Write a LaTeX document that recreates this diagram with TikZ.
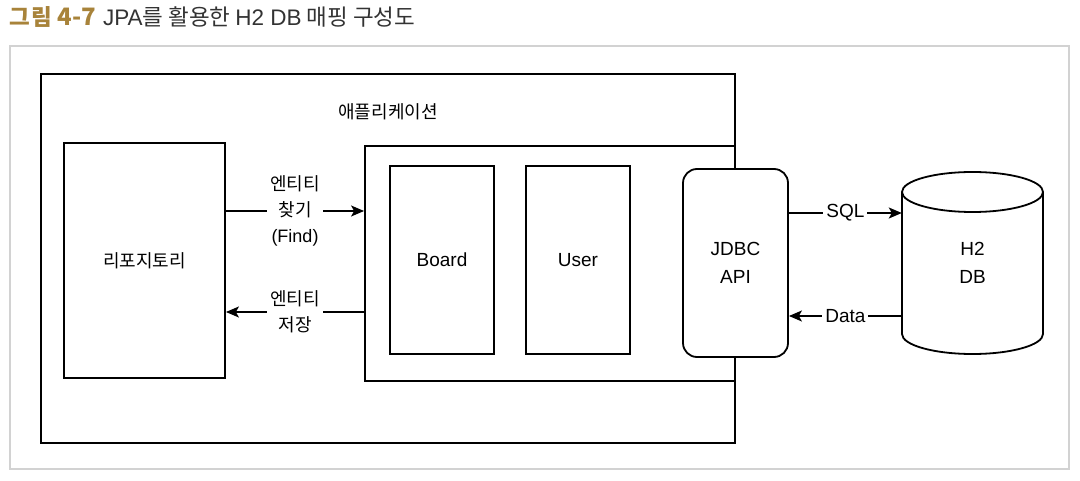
\documentclass[tikz,border=0pt]{standalone}
\usepackage{fontspec}
\setmainfont{Noto Sans CJK KR}
\newfontfamily\lat{Liberation Sans}
\newfontfamily\goldfont[LetterSpace=8]{Noto Sans CJK KR}
\usetikzlibrary{arrows.meta}
\definecolor{gold}{HTML}{A8833A}
\definecolor{titlegray}{HTML}{333333}
\definecolor{framegray}{HTML}{D2D2D2}
\begin{document}
\begin{tikzpicture}[x=1pt,y=1pt,
  box/.style={draw=black,line width=1.8pt},
  arr/.style={line width=1.6pt,-{Stealth[length=13pt,width=11pt,inset=3pt]}},
  lbl/.style={font=\fontsize{18}{26}\selectfont,align=center,fill=white,inner sep=3pt},
  latlbl/.style={lbl,font=\fontsize{19}{26}\selectfont\lat},
  txt/.style={font=\fontsize{18}{27}\selectfont,align=center,inner sep=0pt},
  lattxt/.style={txt,font=\fontsize{19}{28}\selectfont\lat}]
\useasboundingbox (0,0) rectangle (1080,480);
% title
\node[anchor=west,inner sep=0pt,text=titlegray,font=\fontsize{22.5}{26}\selectfont] (title) at (9,463)
  {\textcolor{gold}{\bfseries{\goldfont\bfseries 그림} \fontsize{24}{26}\selectfont 4-7}\hspace{2pt} {\lat JPA}를 활용한 {\lat H2 DB} 매핑 구성도};
% gray frame
\draw[framegray,line width=1.5pt] (10,11) rectangle (1069,434);
% application box
\draw[box] (41,37) rectangle (735,406);
\node[txt] (applbl) at (388,368) {애플리케이션};
% repository
\node[box,minimum width=161pt,minimum height=235pt,inner sep=0pt,txt] (repo) at (144.5,219.5) {리포지토리};
% inner box
\node[box,minimum width=370pt,minimum height=235pt,inner sep=0pt] (inner) at (550,216.5) {};
\node[box,minimum width=104pt,minimum height=188pt,inner sep=0pt,lattxt] (board) at (442,220) {Board};
\node[box,minimum width=104pt,minimum height=188pt,inner sep=0pt,lattxt] (user) at (578,220) {User};
% JDBC
\node[box,fill=white,rounded corners=14pt,minimum width=105pt,minimum height=188pt,inner sep=0pt,lattxt] (jdbc) at (735.5,217) {JDBC\\API};
% DB cylinder
\node[minimum width=141pt,minimum height=182pt,inner sep=0pt,lattxt] (db) at (972.5,217) {H2\\DB};
\draw[line width=1.8pt] (902,288) -- (902,146) arc (180:360:70.5 and 20) -- (1043,288);
\draw[line width=1.8pt] (972.5,288) ellipse (70.5 and 20);
% coordinates for arrow heights
\coordinate (yfind) at (0,269);
\coordinate (ysave) at (0,168);
\coordinate (ysql) at (0,267);
\coordinate (ydata) at (0,164);
% arrows
\draw[arr] (repo.east |- yfind) -- node[lbl,pos=0.5] {엔티티\\찾기\\{\lat (Find)}} (inner.west |- yfind);
\draw[arr] (inner.west |- ysave) -- node[lbl,pos=0.5] {엔티티\\저장} (repo.east |- ysave);
\draw[arr] (jdbc.east |- ysql) -- node[latlbl,pos=0.5] {SQL} (db.west |- ysql);
\draw[arr] (db.west |- ydata) -- node[latlbl,pos=0.5] {Data} (jdbc.east |- ydata);
\end{tikzpicture}
\end{document}
